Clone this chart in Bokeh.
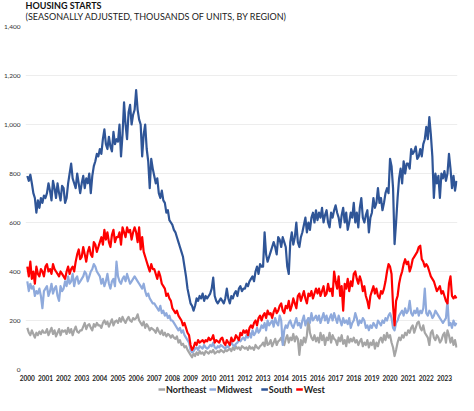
from bokeh.plotting import figure
from bokeh.layouts import column
from bokeh.models import (Range1d, FixedTicker, NumeralTickFormatter, ColumnDataSource)
from bokeh.core.properties import value
from bokeh.embed import file_html
from bokeh.resources import INLINE

title_text = "HOUSING STARTS"
subtitle_text = "(SEASONALLY ADJUSTED, THOUSANDS OF UNITS, BY REGION)"
start_year = 2000
year_ticks = list(range(2000, 2024))
y_ticks = [0, 200, 400, 600, 800, 1000, 1200, 1400]
series_names = ["Northeast", "Midwest", "South", "West"]
series_colors = ["#A5A5A5", "#8FAADC", "#2F5597", "#FF0000"]

# monthly, Jan 2000 .. Sep 2023 (thousands, SAAR)
northeast = [
    170, 150, 140, 160, 145, 130, 150, 140, 155, 145, 160, 150,
    150, 165, 140, 155, 170, 145, 160, 135, 150, 165, 140, 160,
    155, 160, 145, 170, 150, 165, 140, 160, 175, 155, 150, 160,
    160, 175, 190, 165, 180, 185, 170, 160, 185, 175, 190, 180,
    180, 170, 190, 200, 185, 195, 175, 190, 205, 180, 195, 200,
    190, 210, 195, 215, 200, 190, 205, 215, 200, 195, 210, 205,
    210, 225, 200, 190, 180, 195, 170, 185, 175, 160, 170, 165,
    160, 150, 170, 155, 145, 160, 140, 150, 135, 145, 140, 130,
    140, 130, 125, 135, 110, 120, 100, 105, 90, 95, 80, 70,
    60, 50, 65, 55, 70, 60, 75, 65, 70, 60, 75, 70,
    65, 75, 70, 80, 65, 70, 75, 70, 80, 75, 70, 80,
    75, 80, 85, 75, 90, 80, 95, 85, 90, 80, 95, 90,
    85, 90, 80, 95, 85, 90, 80, 100, 90, 85, 95, 100,
    110, 95, 130, 100, 105, 120, 95, 110, 125, 100, 115, 120,
    130, 110, 100, 125, 140, 110, 130, 120, 145, 115, 135, 125,
    60, 120, 100, 130, 110, 140, 210, 150, 130, 120, 140, 115,
    130, 110, 150, 120, 140, 100, 130, 120, 150, 110, 140, 125,
    120, 100, 130, 115, 140, 105, 120, 95, 135, 110, 125, 115,
    130, 110, 120, 100, 115, 125, 95, 110, 100, 120, 90, 110,
    100, 120, 85, 110, 95, 120, 130, 110, 140, 120, 150, 130,
    140, 110, 90, 55, 80, 110, 130, 120, 140, 130, 150, 140,
    160, 150, 170, 180, 150, 170, 190, 195, 170, 160, 180, 150,
    140, 130, 100, 150, 160, 130, 120, 140, 130, 110, 120, 140,
    150, 110, 160, 140, 110, 130, 100, 120, 90,
]
midwest = [
    360, 320, 350, 330, 340, 300, 320, 310, 330, 300, 250, 320,
    330, 340, 300, 320, 350, 310, 330, 340, 300, 280, 340, 320,
    330, 360, 340, 380, 350, 360, 390, 340, 370, 380, 350, 360,
    370, 380, 400, 390, 360, 380, 400, 410, 430, 420, 400, 390,
    380, 350, 370, 340, 360, 390, 350, 330, 360, 370, 340, 440,
    380, 360, 350, 370, 380, 360, 390, 370, 350, 360, 370, 380,
    370, 360, 350, 340, 330, 350, 320, 300, 310, 290, 280, 270,
    270, 260, 250, 240, 260, 230, 240, 220, 230, 210, 220, 200,
    200, 190, 180, 170, 160, 170, 150, 160, 140, 130, 120, 110,
    80, 70, 75, 85, 90, 80, 95, 90, 85, 100, 90, 85,
    90, 100, 95, 110, 90, 85, 95, 90, 100, 95, 90, 85,
    95, 90, 100, 110, 100, 95, 105, 110, 120, 115, 125, 130,
    120, 140, 130, 150, 130, 160, 140, 150, 170, 150, 160, 180,
    170, 190, 160, 200, 180, 190, 200, 175, 210, 190, 180, 220,
    200, 100, 160, 180, 170, 190, 200, 180, 170, 190, 210, 180,
    190, 170, 200, 220, 180, 200, 210, 190, 230, 200, 210, 220,
    200, 220, 190, 210, 230, 200, 220, 190, 210, 225, 200, 230,
    210, 190, 220, 200, 180, 210, 190, 200, 185, 210, 170, 190,
    200, 230, 210, 180, 200, 190, 210, 200, 170, 180, 160, 180,
    170, 190, 180, 170, 200, 190, 180, 200, 190, 210, 200, 220,
    230, 210, 170, 160, 190, 200, 220, 230, 240, 220, 250, 230,
    240, 280, 230, 220, 240, 230, 250, 220, 240, 230, 250, 330,
    230, 220, 240, 230, 210, 220, 240, 230, 220, 210, 200, 190,
    200, 210, 280, 180, 190, 170, 200, 180, 190,
]
south = [
    790, 770, 795, 760, 720, 700, 640, 690, 660, 700, 680, 710,
    700, 720, 760, 730, 690, 770, 740, 700, 760, 720, 690, 750,
    740, 680, 700, 760, 800, 840, 780, 760, 740, 800, 760, 720,
    760, 790, 740, 780, 760, 800, 720, 790, 830, 850, 880, 870,
    900, 880, 940, 980, 920, 900, 950, 910, 890, 970, 920, 940,
    930, 1000, 870, 960, 1090, 1000, 940, 1050, 1080, 1000, 1040, 1060,
    1140, 1060, 1020, 1000, 870, 960, 1000, 900, 850, 740, 860, 820,
    790, 760, 780, 720, 700, 730, 690, 680, 640, 650, 610, 600,
    590, 570, 560, 540, 520, 500, 480, 460, 420, 380, 330, 300,
    270, 260, 240, 260, 290, 280, 300, 290, 310, 280, 300, 290,
    300, 310, 330, 375, 300, 280, 270, 280, 290, 280, 270, 290,
    330, 290, 270, 300, 290, 310, 320, 300, 330, 340, 320, 330,
    330, 350, 340, 360, 370, 380, 360, 400, 420, 390, 430, 420,
    420, 560, 470, 440, 460, 480, 500, 520, 500, 470, 540, 530,
    500, 540, 520, 500, 420, 390, 520, 560, 510, 540, 600, 520,
    500, 540, 560, 590, 620, 560, 600, 570, 620, 640, 600, 650,
    610, 640, 620, 660, 600, 630, 650, 600, 580, 640, 620, 650,
    670, 640, 620, 580, 630, 660, 600, 640, 570, 600, 640, 620,
    680, 600, 640, 580, 660, 700, 620, 600, 630, 650, 560, 620,
    640, 700, 660, 680, 740, 680, 700, 650, 680, 720, 740, 720,
    860, 830, 740, 512, 600, 700, 780, 820, 760, 850, 800, 840,
    840, 820, 900, 880, 890, 910, 860, 870, 900, 870, 920, 940,
    990, 940, 1030, 960, 870, 700, 800, 760, 790, 700, 800, 780,
    810, 770, 800, 880, 820, 740, 790, 730, 770,
]
west = [
    420, 380, 440, 370, 400, 350, 420, 390, 380, 410, 400, 380,
    420, 430, 400, 410, 390, 430, 410, 400, 390, 380, 400, 390,
    380, 370, 400, 420, 390, 410, 420, 400, 440, 470, 490, 450,
    460, 500, 470, 440, 480, 500, 470, 460, 520, 510, 480, 500,
    520, 540, 510, 570, 530, 560, 520, 500, 550, 570, 520, 540,
    540, 560, 510, 580, 560, 540, 580, 560, 570, 530, 560, 580,
    560, 520, 580, 490, 540, 480, 460, 440, 420, 400, 430, 410,
    410, 390, 370, 400, 380, 350, 340, 330, 300, 310, 290, 280,
    250, 240, 230, 240, 220, 210, 200, 180, 190, 170, 150, 140,
    100, 80, 90, 110, 100, 120, 110, 115, 120, 110, 120, 115,
    130, 120, 125, 140, 110, 120, 115, 110, 125, 130, 110, 100,
    120, 110, 100, 130, 115, 120, 140, 130, 120, 150, 140, 160,
    150, 160, 140, 170, 180, 170, 190, 200, 180, 210, 220, 200,
    220, 230, 210, 240, 225, 230, 210, 235, 250, 230, 240, 260,
    270, 240, 230, 260, 250, 280, 240, 260, 290, 270, 250, 300,
    310, 280, 300, 320, 290, 270, 310, 300, 320, 290, 310, 330,
    310, 330, 300, 320, 340, 300, 310, 350, 320, 330, 300, 400,
    360, 330, 380, 300, 340, 240, 350, 330, 370, 320, 360, 340,
    390, 400, 370, 350, 380, 360, 320, 340, 300, 280, 250, 300,
    320, 340, 310, 330, 300, 290, 320, 310, 330, 360, 400, 430,
    420, 390, 260, 180, 280, 300, 350, 380, 400, 430, 450, 430,
    440, 400, 420, 450, 460, 470, 480, 500, 505, 450, 440, 420,
    430, 420, 400, 380, 370, 360, 340, 320, 330, 340, 310, 320,
    300, 280, 270, 350, 380, 300, 290, 300, 290,
]

FONT = "Lato"
W = 458
HEAD_H, MAIN_H, LEG_H = 22, 361, 12


def bare(fig):
    fig.outline_line_color = None
    fig.xaxis.visible = False
    fig.yaxis.visible = False
    fig.xgrid.grid_line_color = None
    fig.ygrid.grid_line_color = None
    return fig


# ---- header (title + subtitle)
head = bare(figure(width=W, height=HEAD_H, output_backend="svg", toolbar_location=None,
                   x_range=Range1d(0, W), y_range=Range1d(HEAD_H, 0),
                   min_border=0))
head.text(x=[0], y=[4.5], text=[title_text], text_font=value(FONT), text_font_size="9px",
          text_font_style="bold", text_color="#111111", text_baseline="middle")
head.text(x=[0], y=[15.5], text=[subtitle_text], text_font=value(FONT), text_font_size="9px",
          text_color="#222222", text_baseline="middle")

# ---- main chart
p = figure(width=W, height=MAIN_H, output_backend="svg", toolbar_location=None,
           x_range=Range1d(1999.9, 2023.72), y_range=Range1d(0, 1400),
           min_border_left=2, min_border_right=1, min_border_top=4, min_border_bottom=0)
p.outline_line_color = None

for name, color, vals in zip(series_names, series_colors, [northeast, midwest, south, west]):
    xs = [start_year + i / 12 for i in range(len(vals))]
    src = ColumnDataSource(dict(x=xs, y=vals))
    p.line("x", "y", source=src, line_color=color, line_width=2.2, line_join="round")

for ax in (p.xaxis, p.yaxis):
    ax.major_label_text_font = FONT
    ax.major_label_text_font_size = "6.5px"
    ax.axis_line_color = None
    ax.major_tick_line_color = None
    ax.minor_tick_line_color = None
    ax.major_tick_out = 0
    ax.major_tick_in = 0
    ax.minor_tick_out = 0
    ax.minor_tick_in = 0

p.yaxis.ticker = FixedTicker(ticks=y_ticks)
p.yaxis.formatter = NumeralTickFormatter(format="0,0")
p.yaxis.major_label_text_color = "#333333"
p.yaxis.major_label_standoff = 5

p.xaxis.ticker = FixedTicker(ticks=year_ticks)
p.xaxis.major_label_text_font_style = "bold"
p.xaxis.major_label_text_color = "#222222"
p.xaxis.major_label_standoff = 5

p.xgrid.grid_line_color = None
p.ygrid.grid_line_color = "#EDEDED"
p.ygrid.grid_line_width = 1

# ---- legend row
leg = bare(figure(width=W, height=LEG_H, output_backend="svg", toolbar_location=None,
                  x_range=Range1d(0, W), y_range=Range1d(LEG_H, 0), min_border=0))
legend_x = [141, 195, 250, 287]
mid = LEG_H / 2
leg.segment(x0=[x for x in legend_x], x1=[x + 7 for x in legend_x],
            y0=[mid] * 4, y1=[mid] * 4, line_color=series_colors, line_width=2.5)
leg.text(x=[x + 8 for x in legend_x], y=[mid] * 4, text=series_names,
         text_font=value(FONT), text_font_size="9px", text_font_style="bold",
         text_color="#222222", text_baseline="middle")

layout = column(head, p, leg, spacing=0)
open("out.html", "w").write(file_html(layout, INLINE))
